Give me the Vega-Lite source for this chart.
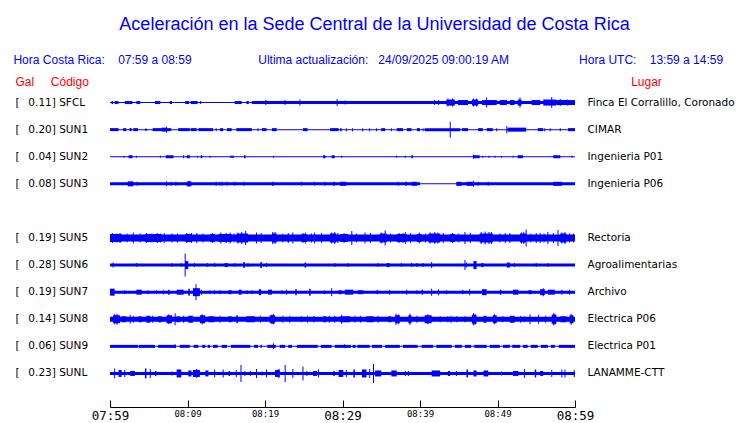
{
  "$schema": "https://vega.github.io/schema/vega-lite/v6.json",
  "width": 465,
  "height": 298,
  "autosize": "none",
  "padding": {"left": 110, "top": 89, "right": 165, "bottom": 36},
  "background": "white",
  "config": {"view": {"stroke": null}},
  "title": {
    "text": "Aceleración en la Sede Central de la Universidad de Costa Rica",
    "subtitle": "Hora Costa Rica:\u00a0\u00a0\u00a0\u00a007:59 a 08:59\u00a0\u00a0\u00a0\u00a0\u00a0\u00a0\u00a0\u00a0\u00a0\u00a0\u00a0\u00a0\u00a0\u00a0\u00a0\u00a0\u00a0\u00a0\u00a0\u00a0Ultima actualización:\u00a0\u00a0\u00a024/09/2025 09:00:19 AM\u00a0\u00a0\u00a0\u00a0\u00a0\u00a0\u00a0\u00a0\u00a0\u00a0\u00a0\u00a0\u00a0\u00a0\u00a0\u00a0\u00a0\u00a0\u00a0\u00a0\u00a0Hora UTC:\u00a0\u00a0\u00a0\u00a013:59 a 14:59\u00a0\u00a0\u00a0\u2009\u200b",
    "anchor": "middle",
    "dx": 32,
    "font": "Liberation Sans",
    "fontSize": 18,
    "fontWeight": "normal",
    "color": "#0000ff",
    "subtitleFont": "Liberation Sans",
    "subtitleFontSize": 12,
    "subtitleColor": "#0000ff",
    "subtitlePadding": 21,
    "offset": 9
  },
  "datasets": {
    "seg": [
      {"s":"SFCL","a":0,"b":60,"h":1},
      {"s":"SFCL","a":18.3,"b":60,"h":3},
      {"s":"SFCL","a":0.2,"b":0.4,"h":3},
      {"s":"SFCL","a":0.6,"b":1.1,"h":3},
      {"s":"SFCL","a":1.9,"b":2.9,"h":3},
      {"s":"SFCL","a":3.4,"b":3.9,"h":3},
      {"s":"SFCL","a":5.8,"b":6.5,"h":3},
      {"s":"SFCL","a":7.7,"b":8.0,"h":3},
      {"s":"SFCL","a":9.7,"b":10.2,"h":3},
      {"s":"SFCL","a":10.4,"b":11.3,"h":3},
      {"s":"SFCL","a":16.1,"b":17.0,"h":3},
      {"s":"SFCL","a":17.6,"b":17.9,"h":3},
      {"s":"SFCL","a":43.4,"b":44.5,"h":6},
      {"s":"SFCL","a":44.9,"b":46.2,"h":5},
      {"s":"SFCL","a":46.7,"b":47.5,"h":6},
      {"s":"SFCL","a":48.0,"b":49.9,"h":5},
      {"s":"SFCL","a":50.3,"b":51.2,"h":5},
      {"s":"SFCL","a":51.6,"b":52.2,"h":5},
      {"s":"SFCL","a":52.6,"b":53.1,"h":6},
      {"s":"SFCL","a":54.4,"b":55.5,"h":5},
      {"s":"SFCL","a":55.9,"b":57.6,"h":6},
      {"s":"SFCL","a":57.6,"b":60,"h":5},

      {"s":"SUN1","a":0,"b":60,"h":1},
      {"s":"SUN1","a":0,"b":1.1,"h":3},
      {"s":"SUN1","a":1.7,"b":2.1,"h":3},
      {"s":"SUN1","a":2.5,"b":2.8,"h":3},
      {"s":"SUN1","a":3.0,"b":3.6,"h":3},
      {"s":"SUN1","a":4.5,"b":4.8,"h":2},
      {"s":"SUN1","a":5.5,"b":6.7,"h":3},
      {"s":"SUN1","a":6.7,"b":7.3,"h":4},
      {"s":"SUN1","a":7.3,"b":7.9,"h":3},
      {"s":"SUN1","a":8.8,"b":10.3,"h":3},
      {"s":"SUN1","a":10.4,"b":11.2,"h":3},
      {"s":"SUN1","a":11.4,"b":13.3,"h":3},
      {"s":"SUN1","a":14.2,"b":14.6,"h":3},
      {"s":"SUN1","a":15.1,"b":15.7,"h":3},
      {"s":"SUN1","a":16.3,"b":18.3,"h":3},
      {"s":"SUN1","a":19.6,"b":20.2,"h":3},
      {"s":"SUN1","a":20.9,"b":21.5,"h":3},
      {"s":"SUN1","a":24.9,"b":25.5,"h":3},
      {"s":"SUN1","a":28.4,"b":29.5,"h":3},
      {"s":"SUN1","a":29.7,"b":29.9,"h":3},
      {"s":"SUN1","a":35.0,"b":35.5,"h":3},
      {"s":"SUN1","a":37.0,"b":37.8,"h":3},
      {"s":"SUN1","a":38.3,"b":38.9,"h":3},
      {"s":"SUN1","a":39.6,"b":40.0,"h":3},
      {"s":"SUN1","a":40.6,"b":45.2,"h":3},
      {"s":"SUN1","a":45.4,"b":46.2,"h":3},
      {"s":"SUN1","a":47.5,"b":48.1,"h":3},
      {"s":"SUN1","a":48.6,"b":49.4,"h":3},
      {"s":"SUN1","a":51.3,"b":53.7,"h":4},
      {"s":"SUN1","a":55.2,"b":55.9,"h":3},
      {"s":"SUN1","a":59.1,"b":60,"h":3},

      {"s":"SUN2","a":0,"b":60,"h":1},
      {"s":"SUN2","a":2.4,"b":2.9,"h":3},
      {"s":"SUN2","a":7.2,"b":8.2,"h":3},
      {"s":"SUN2","a":9.9,"b":10.3,"h":3},
      {"s":"SUN2","a":11.7,"b":11.9,"h":3},
      {"s":"SUN2","a":15.5,"b":16.0,"h":2},
      {"s":"SUN2","a":17.3,"b":17.5,"h":3},
      {"s":"SUN2","a":27.5,"b":27.8,"h":3},
      {"s":"SUN2","a":28.6,"b":29.0,"h":3},
      {"s":"SUN2","a":38.9,"b":39.1,"h":3},
      {"s":"SUN2","a":46.9,"b":47.7,"h":3},
      {"s":"SUN2","a":52.6,"b":53.3,"h":3},
      {"s":"SUN2","a":57.2,"b":58.1,"h":3},

      {"s":"SUN3","a":0,"b":40.0,"h":3},
      {"s":"SUN3","a":40.0,"b":44.7,"h":1},
      {"s":"SUN3","a":44.7,"b":60,"h":3},
      {"s":"SUN3","a":2.3,"b":3.0,"h":5},
      {"s":"SUN3","a":9.9,"b":10.5,"h":5},
      {"s":"SUN3","a":20.9,"b":21.1,"h":4},
      {"s":"SUN3","a":28.8,"b":29.0,"h":4},
      {"s":"SUN3","a":29.7,"b":30.5,"h":4},
      {"s":"SUN3","a":38.1,"b":38.3,"h":4},
      {"s":"SUN3","a":38.9,"b":39.6,"h":4},
      {"s":"SUN3","a":44.7,"b":45.4,"h":4},
      {"s":"SUN3","a":46.0,"b":46.9,"h":4},
      {"s":"SUN3","a":57.2,"b":58.3,"h":4},

      {"s":"SUN5","a":0,"b":60,"h":7},
      {"s":"SUN5","a":0,"b":1.5,"h":8},
      {"s":"SUN5","a":4.5,"b":6.7,"h":8},
      {"s":"SUN5","a":9.7,"b":10.5,"h":8},
      {"s":"SUN5","a":12.9,"b":13.5,"h":8},
      {"s":"SUN5","a":14.0,"b":15.7,"h":8},
      {"s":"SUN5","a":16.3,"b":17.8,"h":9},
      {"s":"SUN5","a":20.9,"b":21.5,"h":9},
      {"s":"SUN5","a":24.7,"b":25.4,"h":8},
      {"s":"SUN5","a":28.4,"b":29.2,"h":9},
      {"s":"SUN5","a":29.7,"b":30.7,"h":8},
      {"s":"SUN5","a":34.8,"b":35.7,"h":9},
      {"s":"SUN5","a":37.0,"b":38.3,"h":8},
      {"s":"SUN5","a":39.6,"b":40.2,"h":8},
      {"s":"SUN5","a":41.1,"b":42.6,"h":9},
      {"s":"SUN5","a":43.9,"b":44.5,"h":8},
      {"s":"SUN5","a":47.7,"b":49.4,"h":9},
      {"s":"SUN5","a":52.9,"b":53.7,"h":9},
      {"s":"SUN5","a":58.1,"b":58.9,"h":9},

      {"s":"SUN6","a":0,"b":60,"h":3},
      {"s":"SUN6","a":9.7,"b":10.1,"h":8},
      {"s":"SUN6","a":14.8,"b":15.2,"h":4},
      {"s":"SUN6","a":17.2,"b":17.4,"h":6},
      {"s":"SUN6","a":19.4,"b":19.6,"h":6},
      {"s":"SUN6","a":25.1,"b":25.3,"h":5},
      {"s":"SUN6","a":35.7,"b":36.1,"h":4},
      {"s":"SUN6","a":46.9,"b":47.3,"h":8},
      {"s":"SUN6","a":47.9,"b":48.2,"h":4},
      {"s":"SUN6","a":51.2,"b":51.6,"h":5},

      {"s":"SUN7","a":0,"b":60,"h":3},
      {"s":"SUN7","a":0,"b":0.6,"h":7},
      {"s":"SUN7","a":3.4,"b":4.1,"h":5},
      {"s":"SUN7","a":7.5,"b":7.7,"h":5},
      {"s":"SUN7","a":8.6,"b":9.5,"h":5},
      {"s":"SUN7","a":10.1,"b":10.3,"h":7},
      {"s":"SUN7","a":10.7,"b":11.6,"h":8},
      {"s":"SUN7","a":15.3,"b":15.7,"h":4},
      {"s":"SUN7","a":16.6,"b":17.0,"h":5},
      {"s":"SUN7","a":19.2,"b":19.5,"h":6},
      {"s":"SUN7","a":20.4,"b":20.9,"h":5},
      {"s":"SUN7","a":23.9,"b":24.1,"h":6},
      {"s":"SUN7","a":25.7,"b":25.9,"h":7},
      {"s":"SUN7","a":29.5,"b":29.9,"h":4},
      {"s":"SUN7","a":30.3,"b":31.4,"h":5},
      {"s":"SUN7","a":32.0,"b":32.7,"h":4},
      {"s":"SUN7","a":34.4,"b":34.6,"h":4},
      {"s":"SUN7","a":40.2,"b":40.4,"h":5},
      {"s":"SUN7","a":45.4,"b":45.6,"h":4},
      {"s":"SUN7","a":48.0,"b":48.6,"h":6},
      {"s":"SUN7","a":50.3,"b":50.5,"h":5},
      {"s":"SUN7","a":52.0,"b":52.7,"h":5},
      {"s":"SUN7","a":54.0,"b":54.4,"h":4},
      {"s":"SUN7","a":55.5,"b":56.1,"h":6},
      {"s":"SUN7","a":56.5,"b":57.4,"h":5},

      {"s":"SUN8","a":0,"b":60,"h":5},
      {"s":"SUN8","a":0.4,"b":1.3,"h":8},
      {"s":"SUN8","a":1.5,"b":2.1,"h":6},
      {"s":"SUN8","a":3.7,"b":4.1,"h":6},
      {"s":"SUN8","a":4.7,"b":5.2,"h":7},
      {"s":"SUN8","a":6.2,"b":6.7,"h":6},
      {"s":"SUN8","a":7.3,"b":8.0,"h":8},
      {"s":"SUN8","a":8.6,"b":9.0,"h":6},
      {"s":"SUN8","a":10.1,"b":10.7,"h":7},
      {"s":"SUN8","a":11.6,"b":12.3,"h":8},
      {"s":"SUN8","a":12.7,"b":13.5,"h":6},
      {"s":"SUN8","a":15.3,"b":15.7,"h":6},
      {"s":"SUN8","a":16.3,"b":16.5,"h":8},
      {"s":"SUN8","a":17.6,"b":18.7,"h":6},
      {"s":"SUN8","a":20.6,"b":21.3,"h":8},
      {"s":"SUN8","a":26.2,"b":26.4,"h":6},
      {"s":"SUN8","a":27.5,"b":27.9,"h":6},
      {"s":"SUN8","a":29.7,"b":31.0,"h":6},
      {"s":"SUN8","a":33.1,"b":34.0,"h":6},
      {"s":"SUN8","a":35.9,"b":36.3,"h":6},
      {"s":"SUN8","a":36.8,"b":37.4,"h":8},
      {"s":"SUN8","a":38.5,"b":38.9,"h":8},
      {"s":"SUN8","a":40.6,"b":41.5,"h":8},
      {"s":"SUN8","a":46.7,"b":47.3,"h":9},
      {"s":"SUN8","a":48.2,"b":48.6,"h":7},
      {"s":"SUN8","a":49.4,"b":49.9,"h":8},
      {"s":"SUN8","a":51.6,"b":52.2,"h":7},
      {"s":"SUN8","a":57.0,"b":57.6,"h":9},
      {"s":"SUN8","a":58.1,"b":58.9,"h":6},
      {"s":"SUN8","a":59.3,"b":59.8,"h":8},

      {"s":"SUN9","a":0,"b":60,"h":1},
      {"s":"SUN9","a":0,"b":3.6,"h":3},
      {"s":"SUN9","a":3.7,"b":5.8,"h":3},
      {"s":"SUN9","a":6.2,"b":8.5,"h":3},
      {"s":"SUN9","a":9.0,"b":10.3,"h":3},
      {"s":"SUN9","a":10.8,"b":11.4,"h":3},
      {"s":"SUN9","a":11.9,"b":12.3,"h":3},
      {"s":"SUN9","a":12.6,"b":12.9,"h":3},
      {"s":"SUN9","a":13.3,"b":13.9,"h":3},
      {"s":"SUN9","a":14.4,"b":15.1,"h":3},
      {"s":"SUN9","a":15.6,"b":18.1,"h":3},
      {"s":"SUN9","a":18.6,"b":19.1,"h":3},
      {"s":"SUN9","a":19.4,"b":19.6,"h":3},
      {"s":"SUN9","a":20.3,"b":21.4,"h":3},
      {"s":"SUN9","a":21.9,"b":22.6,"h":3},
      {"s":"SUN9","a":23.0,"b":23.5,"h":3},
      {"s":"SUN9","a":24.1,"b":26.8,"h":3},
      {"s":"SUN9","a":27.2,"b":28.6,"h":3},
      {"s":"SUN9","a":29.0,"b":31.1,"h":3},
      {"s":"SUN9","a":31.3,"b":31.7,"h":3},
      {"s":"SUN9","a":31.9,"b":33.5,"h":3},
      {"s":"SUN9","a":33.8,"b":35.1,"h":3},
      {"s":"SUN9","a":35.5,"b":37.4,"h":3},
      {"s":"SUN9","a":37.8,"b":39.7,"h":3},
      {"s":"SUN9","a":40.2,"b":41.7,"h":3},
      {"s":"SUN9","a":42.1,"b":44.1,"h":3},
      {"s":"SUN9","a":44.5,"b":45.4,"h":3},
      {"s":"SUN9","a":45.8,"b":46.6,"h":3},
      {"s":"SUN9","a":47.0,"b":48.6,"h":3},
      {"s":"SUN9","a":49.0,"b":50.3,"h":3},
      {"s":"SUN9","a":50.7,"b":51.6,"h":3},
      {"s":"SUN9","a":51.9,"b":52.9,"h":3},
      {"s":"SUN9","a":53.3,"b":53.9,"h":3},
      {"s":"SUN9","a":54.3,"b":55.2,"h":3},
      {"s":"SUN9","a":55.6,"b":56.5,"h":3},
      {"s":"SUN9","a":56.9,"b":57.4,"h":3},
      {"s":"SUN9","a":57.9,"b":60,"h":3},

      {"s":"SUNL","a":0,"b":60,"h":3},
      {"s":"SUNL","a":1.1,"b":1.5,"h":7},
      {"s":"SUNL","a":2.6,"b":3.2,"h":5},
      {"s":"SUNL","a":4.5,"b":4.7,"h":10},
      {"s":"SUNL","a":5.8,"b":6.0,"h":5},
      {"s":"SUNL","a":8.6,"b":9.2,"h":8},
      {"s":"SUNL","a":10.1,"b":10.5,"h":6},
      {"s":"SUNL","a":10.7,"b":11.6,"h":7},
      {"s":"SUNL","a":12.3,"b":12.7,"h":6},
      {"s":"SUNL","a":15.3,"b":15.5,"h":5},
      {"s":"SUNL","a":21.3,"b":21.9,"h":7},
      {"s":"SUNL","a":26.2,"b":26.7,"h":5},
      {"s":"SUNL","a":28.8,"b":29.0,"h":5},
      {"s":"SUNL","a":29.5,"b":30.1,"h":7},
      {"s":"SUNL","a":31.4,"b":31.6,"h":8},
      {"s":"SUNL","a":32.5,"b":33.1,"h":8},
      {"s":"SUNL","a":34.2,"b":35.0,"h":6},
      {"s":"SUNL","a":36.3,"b":37.0,"h":6},
      {"s":"SUNL","a":41.5,"b":42.6,"h":6},
      {"s":"SUNL","a":43.6,"b":43.9,"h":5},
      {"s":"SUNL","a":46.0,"b":46.2,"h":8},
      {"s":"SUNL","a":46.9,"b":47.3,"h":6},
      {"s":"SUNL","a":48.2,"b":48.8,"h":6},
      {"s":"SUNL","a":52.0,"b":52.7,"h":5},
      {"s":"SUNL","a":54.8,"b":55.0,"h":8},
      {"s":"SUNL","a":55.5,"b":55.9,"h":5}
    ],
    "spk": [
      {"s":"SFCL","t":11.7,"h":3},{"s":"SFCL","t":20.1,"h":5},{"s":"SFCL","t":22.6,"h":5},{"s":"SFCL","t":24.5,"h":6},
      {"s":"SFCL","t":29.3,"h":7},{"s":"SFCL","t":30.3,"h":4},{"s":"SFCL","t":41.9,"h":5},{"s":"SFCL","t":42.4,"h":5},
      {"s":"SFCL","t":43.6,"h":8},{"s":"SFCL","t":44.2,"h":8},{"s":"SFCL","t":46.9,"h":8},{"s":"SFCL","t":47.3,"h":8},
      {"s":"SFCL","t":48.6,"h":10},{"s":"SFCL","t":52.9,"h":10},{"s":"SFCL","t":57.0,"h":11},{"s":"SFCL","t":58.1,"h":7},{"s":"SFCL","t":59.0,"h":6},

      {"s":"SUN1","t":7.3,"h":6},{"s":"SUN1","t":43.9,"h":16},{"s":"SUN1","t":51.2,"h":7},
      {"s":"SUN1","t":13.7,"h":3},{"s":"SUN1","t":19.1,"h":3},{"s":"SUN1","t":21.3,"h":3},{"s":"SUN1","t":30.5,"h":3},
      {"s":"SUN1","t":31.3,"h":3},{"s":"SUN1","t":32.6,"h":3},{"s":"SUN1","t":33.5,"h":3},{"s":"SUN1","t":34.4,"h":3},
      {"s":"SUN1","t":36.3,"h":3},{"s":"SUN1","t":40.4,"h":3},{"s":"SUN1","t":49.9,"h":3},{"s":"SUN1","t":56.1,"h":3},
      {"s":"SUN1","t":56.8,"h":3},{"s":"SUN1","t":58.1,"h":3},

      {"s":"SUN2","t":1.8,"h":2},{"s":"SUN2","t":3.4,"h":2},{"s":"SUN2","t":6.5,"h":2},{"s":"SUN2","t":9.5,"h":3},
      {"s":"SUN2","t":11.3,"h":2},{"s":"SUN2","t":12.9,"h":2},{"s":"SUN2","t":21.1,"h":2},{"s":"SUN2","t":29.9,"h":2},
      {"s":"SUN2","t":37.0,"h":2},{"s":"SUN2","t":38.1,"h":2},{"s":"SUN2","t":46.9,"h":4},{"s":"SUN2","t":48.1,"h":2},
      {"s":"SUN2","t":48.9,"h":2},{"s":"SUN2","t":49.7,"h":2},{"s":"SUN2","t":50.5,"h":2},{"s":"SUN2","t":52.0,"h":2},{"s":"SUN2","t":59.6,"h":2},

      {"s":"SUN3","t":3.5,"h":4},{"s":"SUN3","t":7.3,"h":5},{"s":"SUN3","t":7.9,"h":4},{"s":"SUN3","t":8.5,"h":4},
      {"s":"SUN3","t":10.2,"h":6},{"s":"SUN3","t":13.7,"h":4},{"s":"SUN3","t":14.2,"h":4},{"s":"SUN3","t":14.5,"h":4},
      {"s":"SUN3","t":15.1,"h":4},{"s":"SUN3","t":16.1,"h":4},{"s":"SUN3","t":17.3,"h":4},{"s":"SUN3","t":24.7,"h":4},
      {"s":"SUN3","t":26.4,"h":4},{"s":"SUN3","t":27.7,"h":4},{"s":"SUN3","t":29.9,"h":4},{"s":"SUN3","t":37.2,"h":4},
      {"s":"SUN3","t":46.9,"h":6},{"s":"SUN3","t":47.5,"h":4},{"s":"SUN3","t":48.8,"h":4},

      {"s":"SUN5","t":3.0,"h":11},{"s":"SUN5","t":3.9,"h":9},{"s":"SUN5","t":8.0,"h":9},{"s":"SUN5","t":10.5,"h":10},
      {"s":"SUN5","t":18.9,"h":11},{"s":"SUN5","t":23.6,"h":11},{"s":"SUN5","t":26.4,"h":11},{"s":"SUN5","t":29.0,"h":12},
      {"s":"SUN5","t":31.2,"h":14},{"s":"SUN5","t":32.9,"h":11},{"s":"SUN5","t":35.5,"h":15},{"s":"SUN5","t":38.1,"h":12},
      {"s":"SUN5","t":45.8,"h":12},{"s":"SUN5","t":51.6,"h":10},{"s":"SUN5","t":53.7,"h":17},{"s":"SUN5","t":55.5,"h":10},
      {"s":"SUN5","t":56.5,"h":12},{"s":"SUN5","t":57.8,"h":16},{"s":"SUN5","t":59.3,"h":9},
      {"s":"SUN5","t":2.2,"h":9},{"s":"SUN5","t":7.0,"h":10},{"s":"SUN5","t":8.7,"h":9},{"s":"SUN5","t":11.2,"h":10},
      {"s":"SUN5","t":12.0,"h":9},{"s":"SUN5","t":16.0,"h":9},{"s":"SUN5","t":19.5,"h":10},{"s":"SUN5","t":22.3,"h":9},
      {"s":"SUN5","t":23.0,"h":10},{"s":"SUN5","t":26.0,"h":9},{"s":"SUN5","t":27.3,"h":10},{"s":"SUN5","t":31.8,"h":9},
      {"s":"SUN5","t":33.6,"h":10},{"s":"SUN5","t":36.2,"h":9},{"s":"SUN5","t":38.8,"h":10},{"s":"SUN5","t":40.7,"h":9},
      {"s":"SUN5","t":43.0,"h":10},{"s":"SUN5","t":45.0,"h":9},{"s":"SUN5","t":46.5,"h":10},{"s":"SUN5","t":50.3,"h":9},
      {"s":"SUN5","t":51.0,"h":10},{"s":"SUN5","t":54.3,"h":9},{"s":"SUN5","t":55.0,"h":10},{"s":"SUN5","t":56.0,"h":9},
      {"s":"SUN5","t":57.2,"h":10},{"s":"SUN5","t":59.8,"h":9},
      {"s":"SUN5","t":0.3,"h":10},{"s":"SUN5","t":0.9,"h":9},{"s":"SUN5","t":1.3,"h":10},{"s":"SUN5","t":4.7,"h":10},
      {"s":"SUN5","t":5.3,"h":9},{"s":"SUN5","t":6.1,"h":10},{"s":"SUN5","t":6.5,"h":9},{"s":"SUN5","t":9.9,"h":10},
      {"s":"SUN5","t":13.2,"h":10},{"s":"SUN5","t":14.3,"h":11},{"s":"SUN5","t":15.0,"h":10},{"s":"SUN5","t":15.5,"h":11},
      {"s":"SUN5","t":16.5,"h":11},{"s":"SUN5","t":17.0,"h":12},{"s":"SUN5","t":17.5,"h":14},{"s":"SUN5","t":21.0,"h":12},
      {"s":"SUN5","t":21.3,"h":12},{"s":"SUN5","t":24.9,"h":10},{"s":"SUN5","t":25.2,"h":11},{"s":"SUN5","t":28.6,"h":11},
      {"s":"SUN5","t":29.4,"h":10},{"s":"SUN5","t":30.2,"h":10},{"s":"SUN5","t":35.0,"h":11},{"s":"SUN5","t":37.3,"h":10},
      {"s":"SUN5","t":37.8,"h":10},{"s":"SUN5","t":39.9,"h":11},{"s":"SUN5","t":41.3,"h":11},{"s":"SUN5","t":41.9,"h":12},
      {"s":"SUN5","t":42.3,"h":11},{"s":"SUN5","t":44.2,"h":10},{"s":"SUN5","t":47.9,"h":12},{"s":"SUN5","t":48.4,"h":13},
      {"s":"SUN5","t":48.9,"h":12},{"s":"SUN5","t":49.2,"h":12},{"s":"SUN5","t":53.1,"h":11},{"s":"SUN5","t":53.4,"h":12},
      {"s":"SUN5","t":58.3,"h":11},{"s":"SUN5","t":58.7,"h":12},

      {"s":"SUN6","t":0.4,"h":5},{"s":"SUN6","t":3.4,"h":4},{"s":"SUN6","t":8.0,"h":4},{"s":"SUN6","t":9.2,"h":4},
      {"s":"SUN6","t":9.7,"h":23},{"s":"SUN6","t":10.9,"h":4},{"s":"SUN6","t":12.6,"h":4},{"s":"SUN6","t":13.5,"h":4},
      {"s":"SUN6","t":16.1,"h":4},{"s":"SUN6","t":17.8,"h":4},{"s":"SUN6","t":20.2,"h":4},{"s":"SUN6","t":29.0,"h":4},
      {"s":"SUN6","t":30.7,"h":4},{"s":"SUN6","t":34.6,"h":4},{"s":"SUN6","t":37.6,"h":4},{"s":"SUN6","t":38.9,"h":4},
      {"s":"SUN6","t":39.6,"h":4},{"s":"SUN6","t":40.4,"h":4},{"s":"SUN6","t":41.5,"h":6},{"s":"SUN6","t":45.8,"h":10},
      {"s":"SUN6","t":46.0,"h":5},{"s":"SUN6","t":52.2,"h":4},{"s":"SUN6","t":55.0,"h":4},{"s":"SUN6","t":56.5,"h":4},

      {"s":"SUN7","t":1.9,"h":4},{"s":"SUN7","t":4.9,"h":4},{"s":"SUN7","t":6.0,"h":4},{"s":"SUN7","t":6.9,"h":4},
      {"s":"SUN7","t":11.1,"h":16},{"s":"SUN7","t":11.8,"h":5},{"s":"SUN7","t":12.9,"h":4},{"s":"SUN7","t":13.5,"h":4},
      {"s":"SUN7","t":14.2,"h":4},{"s":"SUN7","t":17.7,"h":4},{"s":"SUN7","t":18.3,"h":4},{"s":"SUN7","t":22.2,"h":4},
      {"s":"SUN7","t":22.8,"h":5},{"s":"SUN7","t":27.7,"h":4},{"s":"SUN7","t":28.6,"h":8},{"s":"SUN7","t":36.1,"h":5},
      {"s":"SUN7","t":38.3,"h":5},{"s":"SUN7","t":39.6,"h":4},{"s":"SUN7","t":41.5,"h":7},{"s":"SUN7","t":42.4,"h":6},
      {"s":"SUN7","t":43.4,"h":4},{"s":"SUN7","t":46.4,"h":6},{"s":"SUN7","t":55.9,"h":8},{"s":"SUN7","t":58.3,"h":5},{"s":"SUN7","t":59.3,"h":5},

      {"s":"SUN8","t":0.9,"h":11},{"s":"SUN8","t":2.6,"h":9},{"s":"SUN8","t":5.5,"h":7},{"s":"SUN8","t":8.4,"h":12},
      {"s":"SUN8","t":19.4,"h":7},{"s":"SUN8","t":21.1,"h":10},{"s":"SUN8","t":23.2,"h":7},{"s":"SUN8","t":24.7,"h":6},
      {"s":"SUN8","t":29.0,"h":7},{"s":"SUN8","t":29.9,"h":9},{"s":"SUN8","t":31.6,"h":7},{"s":"SUN8","t":34.6,"h":7},
      {"s":"SUN8","t":42.6,"h":6},{"s":"SUN8","t":43.6,"h":6},{"s":"SUN8","t":44.7,"h":6},{"s":"SUN8","t":45.8,"h":6},
      {"s":"SUN8","t":50.7,"h":6},{"s":"SUN8","t":53.5,"h":6},{"s":"SUN8","t":54.2,"h":10},{"s":"SUN8","t":55.3,"h":9},
      {"s":"SUN8","t":3.0,"h":7},{"s":"SUN8","t":9.5,"h":7},{"s":"SUN8","t":14.2,"h":7},{"s":"SUN8","t":22.3,"h":7},
      {"s":"SUN8","t":25.5,"h":7},{"s":"SUN8","t":28.3,"h":7},{"s":"SUN8","t":32.3,"h":7},{"s":"SUN8","t":39.6,"h":7},
      {"s":"SUN8","t":44.0,"h":7},{"s":"SUN8","t":53.0,"h":7},{"s":"SUN8","t":56.2,"h":7},
      {"s":"SUN8","t":0.6,"h":10},{"s":"SUN8","t":7.6,"h":10},{"s":"SUN8","t":11.9,"h":10},{"s":"SUN8","t":20.9,"h":10},
      {"s":"SUN8","t":36.9,"h":11},{"s":"SUN8","t":37.2,"h":10},{"s":"SUN8","t":38.7,"h":11},{"s":"SUN8","t":41.0,"h":10},
      {"s":"SUN8","t":46.9,"h":12},{"s":"SUN8","t":47.1,"h":11},{"s":"SUN8","t":49.6,"h":10},{"s":"SUN8","t":57.2,"h":12},
      {"s":"SUN8","t":57.4,"h":11},{"s":"SUN8","t":59.5,"h":11},

      {"s":"SUN9","t":8.4,"h":4},{"s":"SUN9","t":21.1,"h":6},{"s":"SUN9","t":30.3,"h":4},

      {"s":"SUNL","t":0.6,"h":10},{"s":"SUNL","t":1.9,"h":7},{"s":"SUNL","t":5.2,"h":9},{"s":"SUNL","t":8.0,"h":4},
      {"s":"SUNL","t":11.2,"h":9},{"s":"SUNL","t":13.5,"h":8},{"s":"SUNL","t":14.6,"h":8},{"s":"SUNL","t":16.3,"h":7},
      {"s":"SUNL","t":16.9,"h":17},{"s":"SUNL","t":17.4,"h":5},{"s":"SUNL","t":18.1,"h":5},{"s":"SUNL","t":18.9,"h":9},
      {"s":"SUNL","t":19.6,"h":4},{"s":"SUNL","t":20.2,"h":8},{"s":"SUNL","t":21.8,"h":9},{"s":"SUNL","t":22.6,"h":17},
      {"s":"SUNL","t":23.6,"h":9},{"s":"SUNL","t":24.9,"h":14},{"s":"SUNL","t":25.4,"h":5},{"s":"SUNL","t":26.9,"h":8},
      {"s":"SUNL","t":30.5,"h":7},{"s":"SUNL","t":33.5,"h":9},{"s":"SUNL","t":34.0,"h":19},{"s":"SUNL","t":38.1,"h":5},
      {"s":"SUNL","t":38.5,"h":5},{"s":"SUNL","t":44.7,"h":5},{"s":"SUNL","t":50.5,"h":4},{"s":"SUNL","t":53.5,"h":9},
      {"s":"SUNL","t":57.0,"h":7},{"s":"SUNL","t":58.3,"h":8},{"s":"SUNL","t":58.7,"h":8},{"s":"SUNL","t":59.9,"h":7}
    ]
  },
  "layer": [
    {
      "data": {"name": "seg"},
      "mark": {"type": "bar", "color": "#0000ff"},
      "encoding": {
        "x": {
          "field": "a", "type": "quantitative",
          "scale": {"domain": [0, 60], "nice": false, "zero": false},
          "axis": {
            "orient": "bottom", "offset": 20, "title": null, "grid": false,
            "values": [0,5,10,15,20,25,30,35,40,45,50,55,60],
            "domainColor": "black", "domainWidth": 1,
            "tickColor": "black", "tickWidth": 1, "tickSize": -7,
            "labelExpr": "datum.value % 10 == 0 ? timeFormat(datetime(2025, 8, 24, 7, 59 + datum.value), '%H:%M') : ''",
            "labelFont": "DejaVu Sans Mono",
            "labelFontSize": {"condition": {"test": "datum.value % 30 == 0", "value": 12.5}, "value": 9},
            "labelColor": "black", "labelBaseline": "top", "labelPadding": 9,
            "labelFlush": false, "labelOverlap": false
          }
        },
        "x2": {"field": "b"},
        "y": {
          "field": "s", "type": "nominal",
          "scale": {"domain": ["SFCL","SUN1","SUN2","SUN3","SUN4","SUN5","SUN6","SUN7","SUN8","SUN9","SUNL"], "paddingInner": 0, "paddingOuter": 0},
          "axis": {
            "orient": "left", "domain": false, "ticks": false, "tickSize": 0, "grid": false,
            "labelPadding": 95, "labelAlign": "left", "labelBaseline": "middle",
            "labelFont": "DejaVu Sans", "labelFontSize": 10.5, "labelColor": "black",
            "labelExpr": "({'SFCL': '[\u00a0\u00a0\u20090.11] SFCL', 'SUN1': '[\u00a0\u00a0\u20090.20] SUN1', 'SUN2': '[\u00a0\u00a0\u20090.04] SUN2', 'SUN3': '[\u00a0\u00a0\u20090.08] SUN3', 'SUN4': '', 'SUN5': '[\u00a0\u00a0\u20090.19] SUN5', 'SUN6': '[\u00a0\u00a0\u20090.28] SUN6', 'SUN7': '[\u00a0\u00a0\u20090.19] SUN7', 'SUN8': '[\u00a0\u00a0\u20090.14] SUN8', 'SUN9': '[\u00a0\u00a0\u20090.06] SUN9', 'SUNL': '[\u00a0\u00a0\u20090.23] SUNL'})[datum.value]",
            "title": "Gal\u00a0\u00a0\u00a0\u00a0\u00a0Código",
            "titleAngle": 0, "titleAlign": "left", "titleBaseline": "alphabetic",
            "titleX": -95, "titleY": -4,
            "titleColor": "#ff0000", "titleFont": "Liberation Sans", "titleFontSize": 12, "titleFontWeight": "normal"
          }
        },
        "size": {
          "field": "h", "type": "quantitative",
          "scale": {"type": "linear", "domain": [0, 20], "range": [0, 20]},
          "legend": null
        }
      }
    },
    {
      "data": {"name": "spk"},
      "mark": {"type": "tick", "orient": "vertical", "thickness": 1, "color": "#0000ff", "opacity": 1},
      "encoding": {
        "x": {"field": "t", "type": "quantitative"},
        "y": {
          "field": "s", "type": "nominal",
          "axis": {
            "orient": "right", "domain": false, "ticks": false, "tickSize": 0, "grid": false,
            "labelPadding": 12, "labelAlign": "left", "labelBaseline": "middle",
            "labelFont": "DejaVu Sans", "labelFontSize": 10.5, "labelColor": "black", "labelLimit": 200,
            "labelExpr": "({'SFCL': 'Finca El Corralillo, Coronado', 'SUN1': 'CIMAR', 'SUN2': 'Ingenieria P01', 'SUN3': 'Ingenieria P06', 'SUN4': '', 'SUN5': 'Rectoria', 'SUN6': 'Agroalimentarias', 'SUN7': 'Archivo', 'SUN8': 'Electrica P06', 'SUN9': 'Electrica P01', 'SUNL': 'LANAMME-CTT'})[datum.value]",
            "title": "Lugar",
            "titleAngle": 0, "titleAlign": "center", "titleBaseline": "alphabetic",
            "titleX": 71, "titleY": -4,
            "titleColor": "#ff0000", "titleFont": "Liberation Sans", "titleFontSize": 12, "titleFontWeight": "normal"
          }
        },
        "size": {"field": "h", "type": "quantitative", "legend": null}
      }
    }
  ],
  "resolve": {"axis": {"y": "independent"}}
}
